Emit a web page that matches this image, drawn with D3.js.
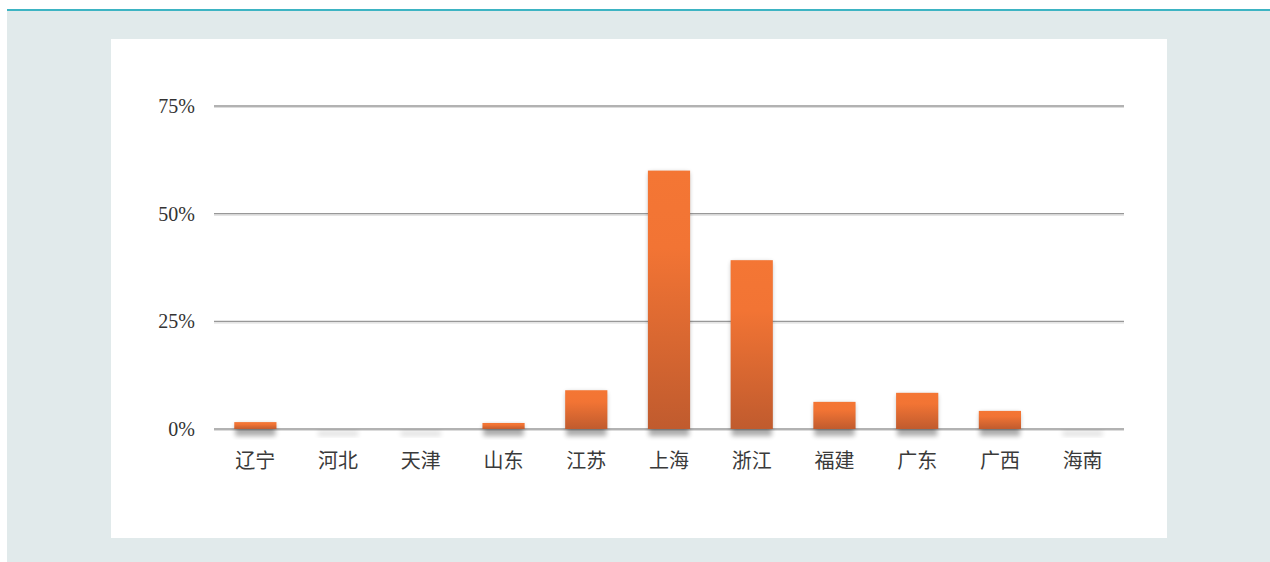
<!DOCTYPE html>
<html>
<head>
<meta charset="utf-8">
<script src="https://cdn.jsdelivr.net/npm/d3@7"></script>
<style>
    html, body { margin: 0; padding: 0; background: #ffffff; overflow: hidden; }
    svg { display: block; }
</style>
</head>
<body>
<div id="chart"></div>
<script>
// provinces on the x axis
const categories = ["辽宁", "河北", "天津", "山东", "江苏", "上海", "浙江", "福建", "广东", "广西", "海南"];
// share of each province, in percent
const values = [1.6, 0, 0, 1.4, 9.0, 60.0, 39.2, 6.3, 8.4, 4.2, 0];
// y axis ticks
const yTicks = [0, 25, 50, 75];

const width = 1270, height = 562;

let margin = {top: 106, right: 146, bottom: 133, left: 214};
let innerWidth = width - margin.left - margin.right;
let innerHeight = height - margin.top - margin.bottom;

const svg = d3.select("#chart").append("svg")
    .attr("width", width)
    .attr("height", height);

// page frame: teal rule, grey band and white card
svg.append("rect").attr("x", 7).attr("y", 9).attr("width", width - 7).attr("height", 2).attr("fill", "#3db4c3");
svg.append("rect").attr("x", 7).attr("y", 11).attr("width", width - 7).attr("height", height - 11).attr("fill", "#e1eaeb");
svg.append("rect").attr("x", 111).attr("y", 39).attr("width", 1056).attr("height", 499).attr("fill", "#ffffff");

let defs = svg.append("defs");

let grad = defs.append("linearGradient")
    .attr("id", "barGrad")
    .attr("x1", 0).attr("y1", 0).attr("x2", 0).attr("y2", 1);
grad.append("stop").attr("offset", "0%").attr("stop-color", "#f47634");
grad.append("stop").attr("offset", "30%").attr("stop-color", "#f27434");
grad.append("stop").attr("offset", "100%").attr("stop-color", "#c05b2e");

defs.append("filter")
    .attr("id", "blur")
    .attr("x", "-30%").attr("y", "-30%").attr("width", "160%").attr("height", "160%")
    .append("feGaussianBlur").attr("stdDeviation", 2.5);

let plot = svg.append("g")
    .attr("transform", "translate(" + margin.left + "," + margin.top + ")");

let x = d3.scaleBand()
    .domain(categories)
    .range([0, innerWidth])
    .paddingInner(0.49)
    .paddingOuter(0.245);

let y = d3.scaleLinear()
    .domain([0, 75])
    .range([innerHeight, 0]);

//grid lines
let grid = plot.append("g");
grid.selectAll("line.shade")
    .data(yTicks)
    .enter().append("line")
    .attr("class", "shade")
    .attr("x1", 0).attr("x2", innerWidth)
    .attr("y1", d => y(d) + 1.5).attr("y2", d => y(d) + 1.5)
    .attr("stroke", "#dcdcdc").attr("stroke-width", 1.2);
grid.selectAll("line.main")
    .data(yTicks)
    .enter().append("line")
    .attr("class", "main")
    .attr("x1", 0).attr("x2", innerWidth)
    .attr("y1", d => y(d)).attr("y2", d => y(d))
    .attr("stroke", "#989898").attr("stroke-width", 1.3);

// y axis labels
plot.append("g").selectAll("text")
    .data(yTicks)
    .enter().append("text")
    .attr("x", -19)
    .attr("y", d => y(d) + 7)
    .attr("text-anchor", "end")
    .attr("font-family", "'Liberation Serif', 'Times New Roman', serif")
    .attr("font-size", 20)
    .attr("fill", "#333333")
    .text(d => d + "%");

// bar shadows (visible also for zero bars)
plot.append("g").selectAll("rect")
    .data(values)
    .enter().append("rect")
    .attr("x", (d, i) => x(categories[i]) + 1)
    .attr("y", d => y(d) + 2)
    .attr("width", x.bandwidth() - 2)
    .attr("height", d => Math.max(4, innerHeight - y(d) + 5))
    .attr("fill", "#000000")
    .attr("opacity", d => d > 0 ? 0.32 : 0.12)
    .attr("filter", "url(#blur)");

// bars
plot.append("g").selectAll("rect")
    .data(values.map((v, i) => ({cat: categories[i], v: v})).filter(d => d.v > 0))
    .enter().append("rect")
    .attr("x", d => x(d.cat))
    .attr("y", d => y(d.v))
    .attr("width", x.bandwidth())
    .attr("height", d => innerHeight - y(d.v))
    .attr("fill", "url(#barGrad)");

// x axis labels
plot.append("g").selectAll("text")
    .data(categories)
    .enter().append("text")
    .attr("x", d => x(d) + x.bandwidth() / 2)
    .attr("y", innerHeight + 39)
    .attr("text-anchor", "middle")
    .attr("font-family", "'Liberation Serif', 'Noto Sans CJK SC', serif")
    .attr("font-size", 20)
    .attr("fill", "#3a3a3a")
    .text(d => d);
</script>
</body>
</html>
